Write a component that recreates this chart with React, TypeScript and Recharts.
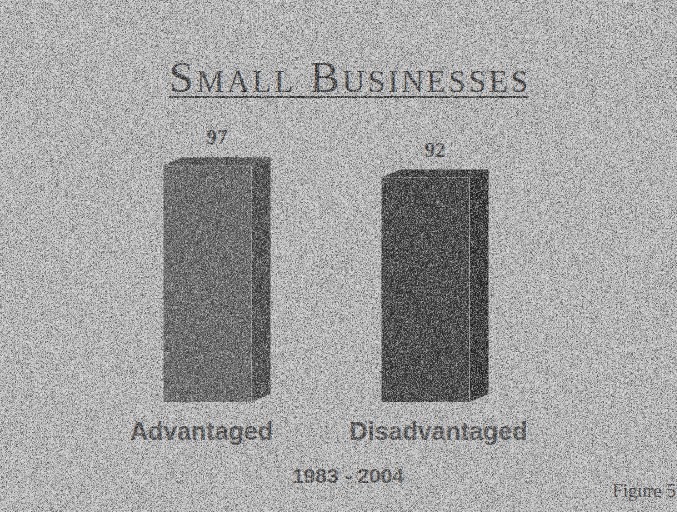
import React from "react";
import { BarChart, Bar, XAxis, YAxis, LabelList } from "recharts";

const categories = ["Advantaged", "Disadvantaged"];
const values = [97, 92];
const titleText = "SMALL BUSINESSES";
const periodText = "1983 - 2004";
const figureText = "Figure 5";

const data = categories.map((name, i) => ({ name, value: values[i] }));

// front / side / top shades per bar
const shades = [
  { front: "#646464", side: "#464646", top: "#505050" },
  { front: "#3a3a3a", side: "#2a2a2a", top: "#323232" },
];
const DX = 19;
const DY = -8;
const tickShift = [-6, 13];

const Box3D = (props: any) => {
  const { x, y, width, height, index } = props;
  const c = shades[index] || shades[0];
  return (
    <g>
      <polygon
        points={`${x},${y} ${x + DX},${y + DY} ${x + width + DX},${y + DY} ${x + width},${y}`}
        fill={c.top}
      />
      <polygon
        points={`${x + width},${y} ${x + width + DX},${y + DY} ${x + width + DX},${y + height + DY} ${x + width},${y + height}`}
        fill={c.side}
      />
      <rect x={x} y={y} width={width} height={height} fill={c.front} />
      <line x1={x + width} y1={y} x2={x + width} y2={y + height} stroke="#9a9a9a" strokeWidth={1} />
      <line x1={x} y1={y} x2={x + width} y2={y} stroke="#7a7a7a" strokeWidth={1} />
    </g>
  );
};

const ValueLabel = (props: any) => {
  const { x, y, width, value } = props;
  return (
    <text
      x={x + (width + DX) / 2}
      y={y - 21}
      textAnchor="middle"
      fontFamily="'Liberation Serif', 'Times New Roman', serif"
      fontWeight="bold"
      fontSize={21}
      fill="#474747"
    >
      {value}
    </text>
  );
};

const CategoryTick = (props: any) => {
  const { x, y, payload, index } = props;
  return (
    <text
      x={x + (tickShift[index] || 0)}
      y={y + 38}
      textAnchor="middle"
      fontFamily="'Liberation Sans', Arial, sans-serif"
      fontWeight="bold"
      fontSize={25}
      fill="#4e4e4e"
    >
      {payload.value}
    </text>
  );
};

const SmallCapsTitle = () => {
  const words = titleText.split(" ");
  return (
    <text
      x={169}
      y={92}
      textLength={359}
      lengthAdjust="spacing"
      fontFamily="'Liberation Serif', 'Times New Roman', serif"
      fill="#383838"
    >
      {words.map((w, i) => (
        <React.Fragment key={i}>
          <tspan fontSize={44}>{(i > 0 ? " " : "") + w[0]}</tspan>
          <tspan fontSize={31}>{w.slice(1)}</tspan>
        </React.Fragment>
      ))}
    </text>
  );
};

export default function App() {
  return (
    <div style={{ position: "absolute", left: 0, top: 0, width: 677, height: 512, background: "#c2c2c2", overflow: "hidden" }}>
      <svg width={677} height={512} style={{ position: "absolute", left: 0, top: 0 }}>
        <SmallCapsTitle />
        <line x1={169} y1={97} x2={529} y2={97} stroke="#383838" strokeWidth={2} />
        <text
          x={348}
          y={483}
          textAnchor="middle"
          fontFamily="'Liberation Sans', Arial, sans-serif"
          fontWeight="bold"
          fontSize={21}
          fill="#4a4a4a"
        >
          {periodText}
        </text>
        <text
          x={676}
          y={497}
          textAnchor="end"
          fontFamily="'Liberation Serif', 'Times New Roman', serif"
          fontSize={19}
          fill="#3a3a3a"
        >
          {figureText}
        </text>
      </svg>
      <div style={{ position: "absolute", left: 0, top: 0 }}>
        <BarChart
          width={677}
          height={512}
          data={data}
          margin={{ top: 158, right: 142.5, bottom: 0, left: 98.5 }}
        >
          <YAxis hide domain={[0, 100]} />
          <XAxis
            dataKey="name"
            axisLine={false}
            tickLine={false}
            tickSize={0}
            tickMargin={0}
            height={110}
            interval={0}
            tick={<CategoryTick />}
          />
          <Bar dataKey="value" barSize={88} shape={<Box3D />} isAnimationActive={false}>
            <LabelList dataKey="value" content={<ValueLabel />} />
          </Bar>
        </BarChart>
      </div>
      <svg width={677} height={512} style={{ position: "absolute", left: 0, top: 0, pointerEvents: "none" }}>
        <defs>
          <filter id="darkGrain" x="0" y="0" width="100%" height="100%">
            <feTurbulence type="fractalNoise" baseFrequency="2.2" numOctaves={1} seed={4} />
            <feColorMatrix type="matrix" values="0 0 0 0 0  0 0 0 0 0  0 0 0 0 0  1.6 0 0 0 -0.65" />
          </filter>
          <filter id="lightGrain" x="0" y="0" width="100%" height="100%">
            <feTurbulence type="fractalNoise" baseFrequency="2.2" numOctaves={1} seed={11} />
            <feColorMatrix type="matrix" values="0 0 0 0 1  0 0 0 0 1  0 0 0 0 1  0 1.6 0 0 -0.65" />
          </filter>
        </defs>
        <rect width={677} height={512} filter="url(#darkGrain)" />
        <rect width={677} height={512} filter="url(#lightGrain)" />
      </svg>
    </div>
  );
}
